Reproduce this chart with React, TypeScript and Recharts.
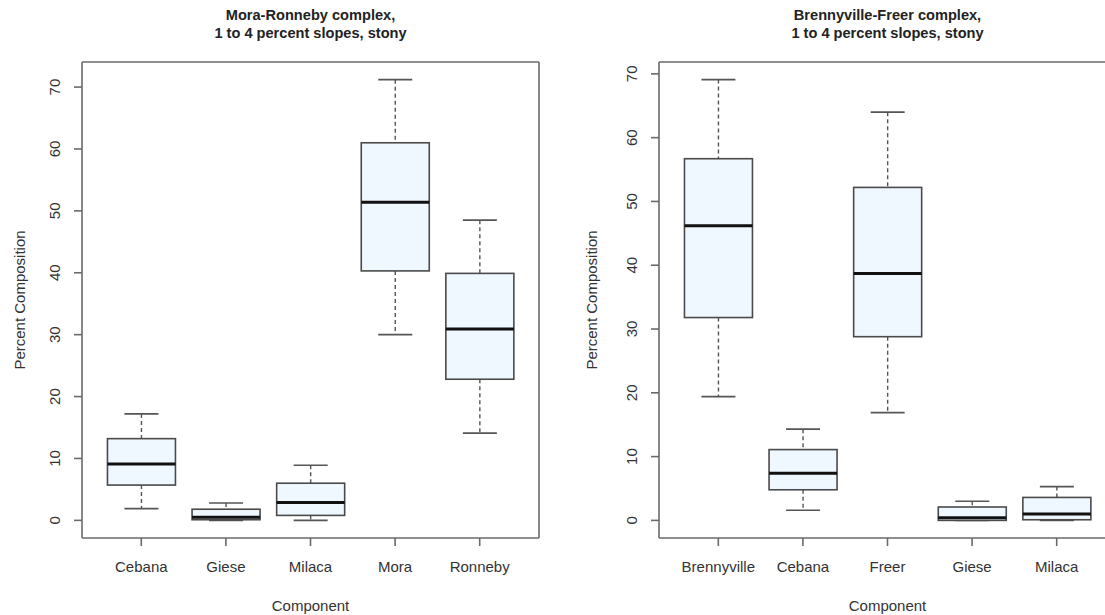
import React from "react";
import { ComposedChart, Bar, XAxis, YAxis, Label } from "recharts";

// Mora-Ronneby complex
const leftCategories = ["Cebana", "Giese", "Milaca", "Mora", "Ronneby"];
const leftMin = [1.9, 0, 0, 30.0, 14.1];
const leftQ1 = [5.7, 0.1, 0.8, 40.3, 22.8];
const leftMedian = [9.1, 0.5, 2.9, 51.4, 30.9];
const leftQ3 = [13.2, 1.8, 6.0, 61.0, 39.9];
const leftMax = [17.2, 2.8, 8.9, 71.2, 48.5];

// Brennyville-Freer complex
const rightCategories = ["Brennyville", "Cebana", "Freer", "Giese", "Milaca"];
const rightMin = [19.4, 1.6, 16.9, 0, 0];
const rightQ1 = [31.8, 4.8, 28.8, 0, 0.1];
const rightMedian = [46.2, 7.4, 38.7, 0.4, 1.0];
const rightQ3 = [56.7, 11.1, 52.2, 2.1, 3.6];
const rightMax = [69.1, 14.3, 64.0, 3.0, 5.3];

const yTicks = [0, 10, 20, 30, 40, 50, 60, 70];

const FONT = '"Liberation Sans", Arial, sans-serif';
const TEXT = "#333";
const FRAME = "#6a6a6a";

type Row = {
  name: string;
  min: number;
  q1: number;
  median: number;
  q3: number;
  max: number;
};

const buildRows = (
  cats: string[],
  mins: number[],
  q1s: number[],
  meds: number[],
  q3s: number[],
  maxs: number[]
): Row[] =>
  cats.map((name, i) => ({
    name,
    min: mins[i],
    q1: q1s[i],
    median: meds[i],
    q3: q3s[i],
    max: maxs[i],
  }));

// range bar spans min..max, the rest is placed proportionally inside it
const BoxShape = (props: any) => {
  const { x, y, width, height, payload } = props;
  if (!payload || height == null) return null;
  const span = payload.max - payload.min || 1;
  const py = (v: number) => y + (height * (payload.max - v)) / span;
  const cx = x + width / 2;
  const cap = width / 4;
  return (
    <g>
      <line x1={cx} x2={cx} y1={py(payload.max)} y2={py(payload.q3)} stroke="#555" strokeWidth={1.4} strokeDasharray="4 3" />
      <line x1={cx} x2={cx} y1={py(payload.q1)} y2={py(payload.min)} stroke="#555" strokeWidth={1.4} strokeDasharray="4 3" />
      <line x1={cx - cap} x2={cx + cap} y1={py(payload.max)} y2={py(payload.max)} stroke="#555" strokeWidth={1.6} />
      <line x1={cx - cap} x2={cx + cap} y1={py(payload.min)} y2={py(payload.min)} stroke="#555" strokeWidth={1.6} />
      <rect
        x={x}
        y={py(payload.q3)}
        width={width}
        height={py(payload.q1) - py(payload.q3)}
        fill="#EFF7FF"
        stroke="#4a4a4a"
        strokeWidth={1.6}
      />
      <line x1={x} x2={x + width} y1={py(payload.median)} y2={py(payload.median)} stroke="#111" strokeWidth={3} />
    </g>
  );
};

const YTick = (props: any) => {
  const { x, y, payload } = props;
  return (
    <text
      x={x}
      y={y}
      transform={`rotate(-90, ${x}, ${y})`}
      textAnchor="middle"
      dominantBaseline="central"
      fontSize={15}
      fontFamily={FONT}
      fill={TEXT}
    >
      {payload.value}
    </text>
  );
};

const XTick = (props: any) => {
  const { x, y, payload } = props;
  return (
    <text x={x} y={y} dy={26} textAnchor="middle" fontSize={15} fontFamily={FONT} fill={TEXT}>
      {payload.value}
    </text>
  );
};

interface PanelProps {
  left: number;
  title: string[];
  rows: Row[];
  domain: [number, number];
  yTitleX: number;
}

const BoxPanel: React.FC<PanelProps> = ({ left, title, rows, domain, yTitleX }) => (
  <div style={{ position: "absolute", left, top: 0 }}>
    <ComposedChart
      width={560}
      height={615}
      data={rows}
      margin={{ top: 61, right: 20, bottom: 37, left: 0 }}
      barCategoryGap="10%"
    >
      <XAxis
        dataKey="name"
        type="category"
        padding={{ left: 17, right: 17 }}
        height={40}
        axisLine={{ stroke: FRAME, strokeWidth: 1.6 }}
        tickLine={{ stroke: FRAME, strokeWidth: 1.6 }}
        tickSize={8}
        tickMargin={0}
        tick={<XTick />}
        interval={0}
      >
        <Label
          content={(p: any) => {
            const vb = p.viewBox;
            return (
              <text
                x={vb.x + vb.width / 2}
                y={vb.y + 73}
                textAnchor="middle"
                fontSize={15}
                fontFamily={FONT}
                fill={TEXT}
              >
                Component
              </text>
            );
          }}
        />
      </XAxis>
      <XAxis
        xAxisId="top"
        dataKey="name"
        orientation="top"
        height={1}
        tick={false}
        tickLine={false}
        axisLine={{ stroke: FRAME, strokeWidth: 1.6 }}
      >
        <Label
          content={(p: any) => {
            const vb = p.viewBox;
            const cx = vb.x + vb.width / 2;
            return (
              <g>
                {title.map((line, i) => (
                  <text
                    key={line}
                    x={cx}
                    y={vb.y + vb.height - 42 + i * 18}
                    textAnchor="middle"
                    fontSize={14.6}
                    fontWeight="bold"
                    fontFamily={FONT}
                    fill="#222"
                  >
                    {line}
                  </text>
                ))}
              </g>
            );
          }}
        />
      </XAxis>
      <YAxis
        type="number"
        domain={domain}
        ticks={yTicks}
        width={82}
        allowDataOverflow
        axisLine={{ stroke: FRAME, strokeWidth: 1.6 }}
        tickLine={{ stroke: FRAME, strokeWidth: 1.6 }}
        tickSize={8}
        tickMargin={19.4}
        tick={<YTick />}
        interval={0}
      >
        <Label
          content={(p: any) => {
            const vb = p.viewBox;
            const lx = vb.x + yTitleX;
            const ly = vb.y + vb.height / 2;
            return (
              <text
                x={lx}
                y={ly}
                transform={`rotate(-90, ${lx}, ${ly})`}
                textAnchor="middle"
                dominantBaseline="central"
                fontSize={15}
                fontFamily={FONT}
                fill={TEXT}
              >
                Percent Composition
              </text>
            );
          }}
        />
      </YAxis>
      <YAxis
        yAxisId="right"
        orientation="right"
        type="number"
        domain={domain}
        width={1}
        tick={false}
        tickLine={false}
        axisLine={{ stroke: FRAME, strokeWidth: 1.6 }}
      />
      <Bar
        dataKey={(d: Row) => [d.min, d.max]}
        shape={<BoxShape />}
        isAnimationActive={false}
        activeBar={false}
      />
    </ComposedChart>
  </div>
);

export default function App() {
  const leftRows = buildRows(leftCategories, leftMin, leftQ1, leftMedian, leftQ3, leftMax);
  const rightRows = buildRows(rightCategories, rightMin, rightQ1, rightMedian, rightQ3, rightMax);
  return (
    <div
      style={{
        position: "absolute",
        left: 0,
        top: 0,
        width: 1105,
        height: 615,
        overflow: "hidden",
        background: "#fff",
      }}
    >
      <BoxPanel
        left={0}
        title={["Mora-Ronneby complex,", "1 to 4 percent slopes, stony"]}
        rows={leftRows}
        domain={[-2.85, 74.05]}
        yTitleX={19}
      />
      <BoxPanel
        left={576.5}
        title={["Brennyville-Freer complex,", "1 to 4 percent slopes, stony"]}
        rows={rightRows}
        domain={[-2.76, 71.86]}
        yTitleX={14.5}
      />
    </div>
  );
}
